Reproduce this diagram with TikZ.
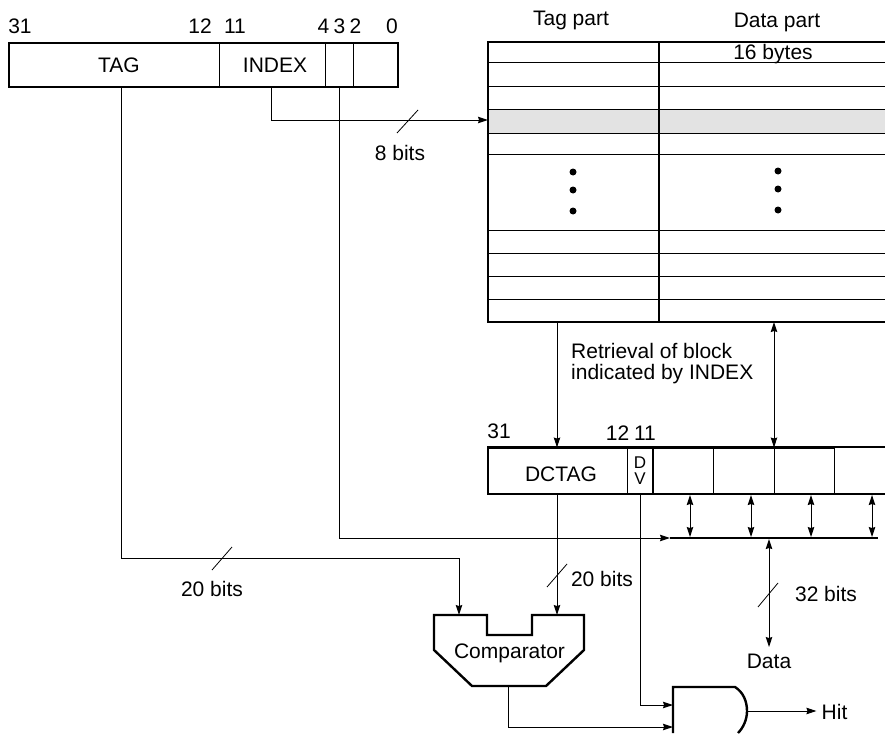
\documentclass[tikz,border=0pt]{standalone}
\usepackage{fontspec}
\setmainfont{Liberation Sans}
\usetikzlibrary{arrows.meta}
\begin{document}
\begin{tikzpicture}[
  x=1pt,y=-1pt,
  font=\fontsize{21}{21}\selectfont,
  txt/.style={inner sep=0pt,align=left},
  field/.style={draw,line width=1pt,inner sep=0pt,minimum height=45pt},
  heavy/.style={line width=2.4pt,line cap=butt},
  rowline/.style={line width=1pt},
  wire/.style={line width=1pt},
  arrow/.style={wire,-{Stealth[length=10pt,width=6.5pt,inset=1pt]}},
  biarrow/.style={wire,{Stealth[length=10pt,width=6.5pt,inset=1pt]}-{Stealth[length=10pt,width=6.5pt,inset=1pt]}},
  slash/.style={line width=0.8pt},
  dot/.style={circle,fill,inner sep=0pt,minimum size=7pt}
]
\useasboundingbox (0,0) rectangle (885,733);
% address register
\node[field,minimum width=210pt] (tagfield) at (114,65) {\hspace*{10pt}TAG};
\node[field,minimum width=106pt] (indexfield) at (272,65) {\hspace*{6pt}INDEX};
\node[field,minimum width=28pt] (linefield) at (339,65) {};
\node[field,minimum width=45pt] (bytefield) at (375.5,65) {};
\draw[heavy] (9,43) rectangle (398,87);
\node[txt] (b31) at (20,26) {31};
\node[txt] (b12) at (200,26) {12};
\node[txt] (b11) at (235,26) {11};
\node[txt] (b4) at (323.5,26) {4};
\node[txt] (b3) at (339.5,26) {3};
\node[txt] (b2) at (355.5,26) {2};
\node[txt] (b0) at (392,26) {0};
% cache array
\fill[gray!22] (488,110) rectangle (885,133);
\foreach \rowy in {63,87,110,133,154,230,253,276,299}
  \draw[rowline] (488,\rowy) -- (885,\rowy);
\draw[heavy] (885,42) -- (488,42) -- (488,322) -- (885,322);
\draw[heavy] (659,42) -- (659,322);
\node[txt] (tagpart) at (571,20) {Tag part};
\node[txt] (datapart) at (777,22) {Data part};
\node[txt] (bytes) at (773,54) {16 bytes};
\foreach \doty in {172,190,211}{
  \node[dot] at (573,\doty) {};
  \node[dot] at (778,\doty-1) {};
}
\coordinate (rowin) at (488,120);
\coordinate (tagread) at (557,322);
\coordinate (dataread) at (774,322);
% block register
\node[field,minimum width=139pt] (dctag) at (557.5,470.5) {\hspace*{7pt}\raisebox{-3pt}[0.72em][0pt]{DCTAG}};
\node[field,minimum width=26pt,font=\fontsize{17}{16.5}\selectfont,align=center] (dvfield) at (640,470.5) {D\\V};
\node[field,minimum width=60pt] (word1) at (683,470.5) {};
\node[field,minimum width=61pt] (word2) at (743.5,470.5) {};
\node[field,minimum width=60pt] (word3) at (804,470.5) {};
\draw[rowline] (834,447) -- (834,494);
\draw[heavy] (885,447) -- (488,447) -- (488,494) -- (885,494);
\draw[line width=2pt] (653,447) -- (653,494);
\node[txt] (d31) at (499,431) {31};
\node[txt] (d12) at (617.5,433) {12};
\node[txt] (d11) at (645,433) {11};
\node[txt,anchor=west] (retrieval) at (571,364) {Retrieval of block\\indicated by INDEX};
\draw[arrow] (tagread) -- (tagread |- dctag.north);
\draw[biarrow] (dataread) -- (dataread |- dctag.north);
% data bus
\coordinate (busleft) at (670,538);
\coordinate (busright) at (878,538);
\draw[line width=2.4pt] (busleft) -- (busright);
\foreach \busx in {690,751,811,872}
  \draw[biarrow] (\busx,495) -- (\busx,537);
\node[txt] (data) at (769,661) {Data};
\draw[biarrow] (769,539) -- (769,647);
\draw[slash] (758,607) -- (778,583);
\node[txt] (bits32) at (826,594) {32 bits};
% comparator and gate
\draw[heavy,line join=miter] (434,615) -- (487,615) -- (487,635) -- (532,635) -- (532,615) -- (584,615)
  -- (584,650) -- (546,686) -- (472,686) -- (434,650) -- cycle;
\node[txt] (comparator) at (509.5,653) {Comparator};
\coordinate (cmpleft) at (459,615);
\coordinate (cmpright) at (557,615);
\coordinate (cmpout) at (508,686);
\draw[heavy] (673,733) -- (673,687) -- (735,687)
  .. controls (743,692) and (747,701) .. (747,711)
  .. controls (747,720) and (743,728) .. (738,733);
\coordinate (gatein1) at (673,705);
\coordinate (gatein2) at (673,727);
\coordinate (gateout) at (747,711);
\node[txt] (hit) at (834.5,712) {Hit};
% connections
\draw[arrow] (271,87) |- (rowin);
\draw[slash] (397,133) -- (418,110);
\node[txt] (bits8) at (400,153) {8 bits};
\draw[arrow] (339,87) |- (busleft);
\draw[arrow] (121,87) |- (459,558) -- (cmpleft);
\draw[slash] (212,570) -- (232,547);
\node[txt] (bits20a) at (212,589) {20 bits};
\draw[arrow] (557,494) -- (cmpright);
\draw[slash] (547,587) -- (567,564);
\node[txt] (bits20b) at (602,579) {20 bits};
\draw[arrow] (640,494) |- (gatein1);
\draw[arrow] (cmpout) |- (gatein2);
\draw[arrow,shorten >=5pt] (gateout) -- (hit.west |- gateout);
\end{tikzpicture}
\end{document}
